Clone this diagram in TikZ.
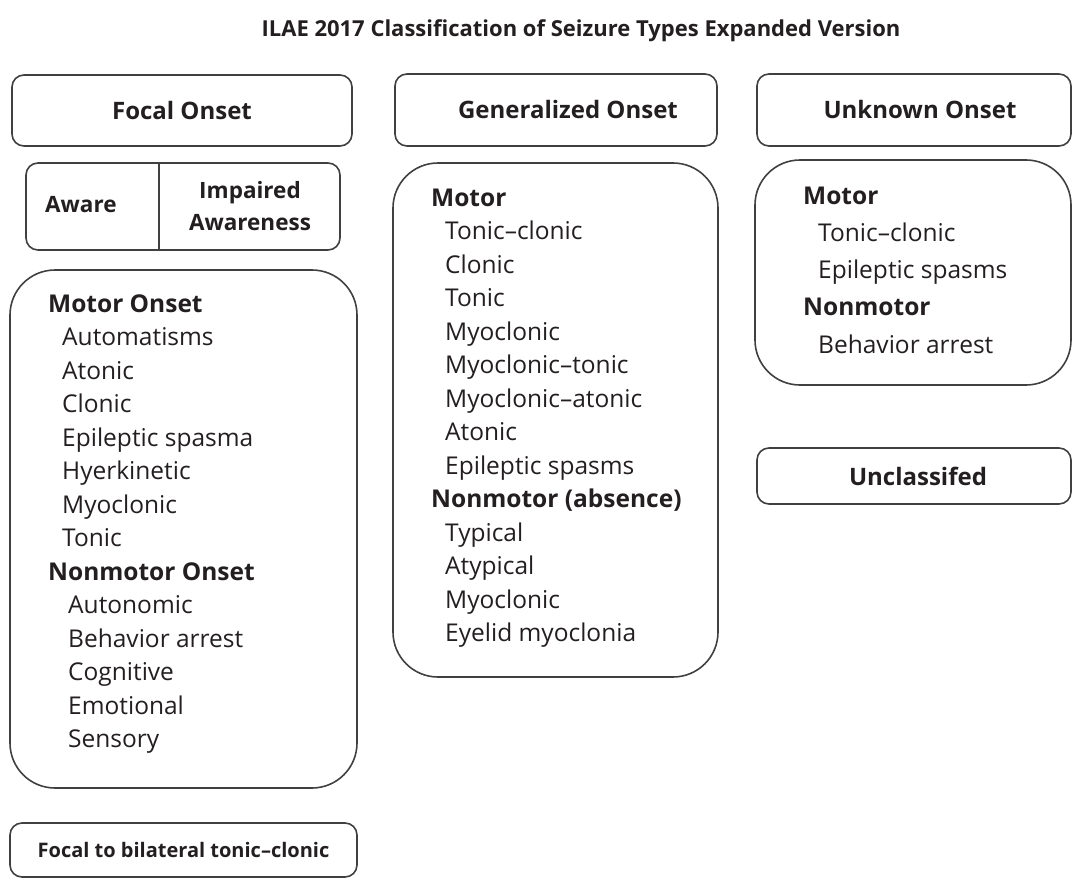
\documentclass[tikz,border=0pt]{standalone}
\usepackage{fontspec}
\setmainfont{Open Sans}
\usepackage{tikz}
\usetikzlibrary{positioning, calc}
\definecolor{cInk}{RGB}{35,31,32}
\definecolor{cLine}{RGB}{64,64,64}
\tikzset{
	onset/.style   ={rectangle, rounded corners=12pt, draw=cLine, line width=1.6pt, align=center, text=cInk, font=\bfseries\fontsize{24}{30}\selectfont},
	listbox/.style ={rectangle, rounded corners=45pt, draw=cLine, line width=1.6pt},
	item/.style    ={anchor=west, inner sep=0pt, text height=17pt, text depth=5pt, text=cInk, font=\fontsize{24.5}{28}\selectfont},
	head/.style    ={item, font=\bfseries\fontsize{22.5}{28}\selectfont},
}

\begin{document}
\begin{tikzpicture}[x=1pt, y=-1pt]
	\useasboundingbox (0,0) rectangle (1073,880);
	\node[text=cInk, font=\bfseries\fontsize{22}{26}\selectfont] (title) at (581,31) {ILAE 2017 Classification of Seizure Types Expanded Version};
	% onset headers
	\node[onset, minimum width=340pt, minimum height=71pt] (focal) at (182,110.5) {Focal Onset};
	\node[onset, minimum width=322pt, minimum height=72pt] (gen) at (556,110) {\hspace*{24pt}Generalized Onset};
	\node[onset, minimum width=314pt, minimum height=72pt] (unk) at (914,110) {\hspace*{12pt}Unknown Onset};
	% awareness split box
	\node[onset, minimum width=314pt, minimum height=87pt] (aware) at (183,206.5) {};
	\coordinate (divtop) at (159,163);
	\coordinate (divbot) at (159,250);
	\draw[cLine, line width=1.6pt] (divtop) -- (divbot);
	\node[head] (aw) at (45,206) {Aware};
	\node[text=cInk, align=center, inner sep=0pt, font=\bfseries\fontsize{22.5}{32}\selectfont] (impaired) at (250,206) {Impaired\\Awareness};
	% list boxes
	\node[listbox, minimum width=347pt, minimum height=518pt] (focallist) at (183.5,529) {};
	\node[listbox, minimum width=325pt, minimum height=514pt] (genlist) at (555.5,420) {};
	\node[listbox, minimum width=316pt, minimum height=225pt] (unklist) at (913,272.5) {};
	\foreach \txt/\dx [count=\i from 0] in {{\textbf{Motor Onset}}/0, Automatisms/14, Atonic/14, Clonic/14, Epileptic spasma/14, Hyerkinetic/14, Myoclonic/14, Tonic/14, {\textbf{Nonmotor Onset}}/0, Autonomic/20, Behavior arrest/20, Cognitive/20, Emotional/20, Sensory/20}
		\node[item] (fm\i) at (48+\dx, 306+33.5*\i) {\txt};
	\foreach \txt/\dx [count=\i from 0] in {{\textbf{Motor}}/0, Tonic--clonic/14, Clonic/14, Tonic/14, Myoclonic/14, Myoclonic--tonic/14, Myoclonic--atonic/14, Atonic/14, Epileptic spasms/14, {\textbf{Nonmotor (absence)}}/0, Typical/14, Atypical/14, Myoclonic/14, Eyelid myoclonia/14}
		\node[item] (gm\i) at (431+\dx, 200+33.5*\i) {\txt};
	\foreach \txt/\dx [count=\i from 0] in {{\textbf{Motor}}/0, Tonic--clonic/15, Epileptic spasms/15, {\textbf{Nonmotor}}/0, Behavior arrest/15}
		\node[item] (um\i) at (803+\dx, 198+37.25*\i) {\txt};
	% bottom boxes
	\node[onset, minimum width=314pt, minimum height=56pt] (unclass) at (914,476) {\hspace*{8pt}Unclassifed};
	\node[onset, minimum width=347pt, minimum height=54pt, font=\bfseries\fontsize{20}{24}\selectfont] (bilat) at (183.5,850) {Focal to bilateral tonic--clonic};
\end{tikzpicture}
\end{document}
